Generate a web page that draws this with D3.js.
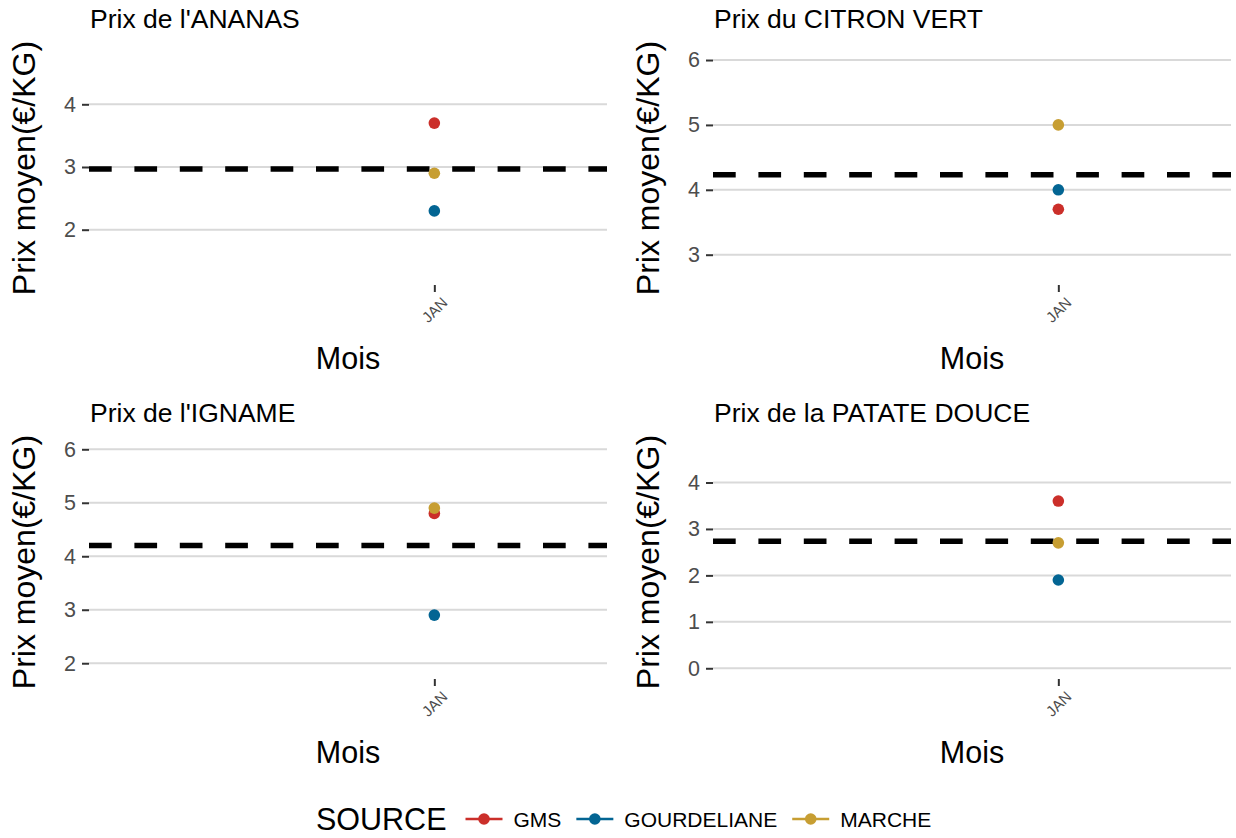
<!DOCTYPE html>
<html>
<head>
<meta charset="utf-8">
<script src="https://cdn.jsdelivr.net/npm/d3@7"></script>
<style>
    body { margin: 0; background: #fff; }
    svg { display: block; font-family: "Liberation Sans", Arial, sans-serif; }
</style>
</head>
<body>
<svg id="chart" width="1236" height="838"></svg>
<script>
var titles = ["Prix de l'ANANAS", "Prix du CITRON VERT", "Prix de l'IGNAME", "Prix de la PATATE DOUCE"];
var sources = ["GMS", "GOURDELIANE", "MARCHE"];
var months = ["JAN"];
var monthIndex = [1];

// prix moyen par panneau, dans l'ordre des titres
var gmsPrix = [3.7, 3.7, 4.8, 3.6];
var gourdelianePrix = [2.3, 4.0, 2.9, 1.9];
var marchePrix = [2.9, 5.0, 4.9, 2.7];

var yDomains = [[1.118, 4.85], [2.533, 6.139], [1.705, 6.08], [-0.231, 4.807]];
var yTicks = [[2, 3, 4], [3, 4, 5, 6], [2, 3, 4, 5, 6], [0, 1, 2, 3, 4]];
var xDomain = [-1, 2];

var COLORS = ["#CB2F2A", "#036593", "#C79E32"];

var PANEL_W = 518;
var PANEL_H = 234;
var LEFTS = [89, 713];
var TOPS = [51, 445];

var svg = d3.select("#chart");

var color = d3.scaleOrdinal().domain(sources).range(COLORS);

function drawPanel(i)
{
    var left = LEFTS[i % 2];
    var top = TOPS[Math.floor(i / 2)];

    var values = [gmsPrix[i], gourdelianePrix[i], marchePrix[i]];
    var points = sources.map(function (s, k) {
        return {source: s, month: monthIndex[0], prix: values[k]};
    });
    var moyenne = d3.mean(values);

    var x = d3.scaleLinear().domain(xDomain).range([0, PANEL_W]);
    var y = d3.scaleLinear().domain(yDomains[i]).range([PANEL_H, 0]);

    var g = svg.append("g").attr("transform", "translate(" + left + "," + top + ")");

    // grille horizontale
    g.selectAll("line.grid")
        .data(yTicks[i])
        .enter().append("line")
        .attr("class", "grid")
        .attr("x1", 0).attr("x2", PANEL_W)
        .attr("y1", y).attr("y2", y)
        .style("stroke", "#d9d9d9")
        .style("stroke-width", 2);

    var yAxis = d3.axisLeft(y).tickValues(yTicks[i]).tickSize(7).tickPadding(6).tickFormat(d3.format("d"));
    var ya = g.append("g").call(yAxis);
    ya.select(".domain").remove();
    ya.selectAll(".tick line").style("stroke", "#333").style("stroke-width", 2);
    ya.selectAll(".tick text")
        .style("font-size", "21.5px")
        .style("fill", "#4d4d4d")
        .style("font-family", "Liberation Sans, Arial, sans-serif");

    var xAxis = d3.axisBottom(x).tickValues(monthIndex).tickSize(7).tickFormat(function (d, k) {
        return months[k];
    });
    var xa = g.append("g").attr("transform", "translate(0," + PANEL_H + ")").call(xAxis);
    xa.select(".domain").remove();
    xa.selectAll(".tick line").style("stroke", "#333").style("stroke-width", 2);
    xa.selectAll(".tick text")
        .attr("y", 0)
        .attr("transform", "translate(6,11) rotate(-45)")
        .attr("dy", "0.71em")
        .style("text-anchor", "end")
        .style("font-size", "15px")
        .style("fill", "#4d4d4d")
        .style("font-family", "Liberation Sans, Arial, sans-serif");

    // moyenne en pointillés
    g.append("line")
        .attr("x1", 0).attr("x2", PANEL_W)
        .attr("y1", y(moyenne)).attr("y2", y(moyenne))
        .style("stroke", "#000")
        .style("stroke-width", 5.5)
        .style("stroke-dasharray", "22.7,22.7");

    g.selectAll("circle")
        .data(points)
        .enter().append("circle")
        .attr("cx", function (d) { return x(d.month); })
        .attr("cy", function (d) { return y(d.prix); })
        .attr("r", 5.8)
        .style("fill", function (d) { return color(d.source); });

    g.append("text")
        .attr("x", 1).attr("y", -23)
        .style("font-size", "26.5px")
        .style("fill", "#000")
        .text(titles[i]);

    g.append("text")
        .attr("transform", "translate(-54," + (PANEL_H / 2) + ") rotate(-90)")
        .style("text-anchor", "middle")
        .style("font-size", "32px")
        .text("Prix moyen(€/KG)");

    g.append("text")
        .attr("x", PANEL_W / 2).attr("y", PANEL_H + 84)
        .style("text-anchor", "middle")
        .style("font-size", "30.5px")
        .text("Mois");
}

function drawLegend()
{
    var lg = svg.append("g").attr("transform", "translate(316,819)");

    var title = lg.append("text")
        .attr("y", 11)
        .style("font-size", "30.5px")
        .text("SOURCE");

    var pos = title.node().getComputedTextLength() + 19;

    sources.forEach(function (s) {
        lg.append("line")
            .attr("x1", pos).attr("x2", pos + 37)
            .style("stroke", color(s))
            .style("stroke-width", 2.7);
        lg.append("circle")
            .attr("cx", pos + 18.5).attr("r", 5.8)
            .style("fill", color(s));
        var t = lg.append("text")
            .attr("x", pos + 48).attr("y", 7.5)
            .style("font-size", "21px")
            .text(s);
        pos += 48 + t.node().getComputedTextLength() + 15;
    });
}

titles.forEach(function (t, i) {
    drawPanel(i);
});
drawLegend();
</script>
</body>
</html>
